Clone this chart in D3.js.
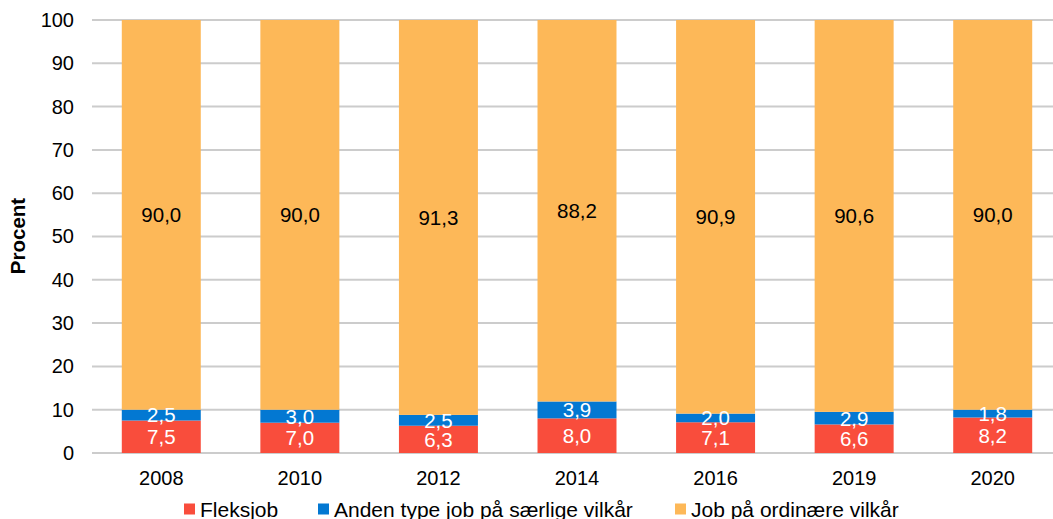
<!DOCTYPE html>
<html>
<head>
<meta charset="utf-8">
<script src="https://cdn.jsdelivr.net/npm/d3@7"></script>
<style>
  html, body { margin: 0; padding: 0; background: #fff; }
  svg { display: block; font-family: "Liberation Sans", Arial, sans-serif; }
</style>
</head>
<body>
<svg id="chart" width="1053" height="519"></svg>
<script>
// Andel i job fordelt på jobtype, pct.
const years = ["2008", "2010", "2012", "2014", "2016", "2019", "2020"];
const fleksjob = [7.5, 7.0, 6.3, 8.0, 7.1, 6.6, 8.2];
const andenType = [2.5, 3.0, 2.5, 3.9, 2.0, 2.9, 1.8];
const ordinaer = [90.0, 90.0, 91.3, 88.2, 90.9, 90.6, 90.0];
const seriesNames = ["Fleksjob", "Anden type job på særlige vilkår", "Job på ordinære vilkår"];
const yTicks = [0, 10, 20, 30, 40, 50, 60, 70, 80, 90, 100];

const colors = ["#F94D3C", "#0378D2", "#FDB858"];
const labelColors = ["#fff", "#fff", "#000"];

const rows = years.map((yr, i) => ({ year: yr, s0: fleksjob[i], s1: andenType[i], s2: ordinaer[i] }));
const keys = ["s0", "s1", "s2"];
const stacked = d3.stack().keys(keys)(rows);

const svg = d3.select("#chart");
const plotLeft = 92, plotRight = 1062, plotTop = 20, plotBottom = 453;

const x = d3.scaleBand().domain(years).range([plotLeft, plotRight]).paddingInner(0.43).paddingOuter(0.215);
const y = d3.scaleLinear().domain([0, 100]).range([plotBottom, plotTop]);

// gridlines
svg.append("g")
  .selectAll("line").data(yTicks).join("line")
  .attr("x1", plotLeft).attr("x2", 1053)
  .attr("y1", d => y(d)).attr("y2", d => y(d))
  .attr("stroke", "#cccccc").attr("stroke-width", 2);

// y axis labels
const yAxis = svg.append("g").attr("transform", `translate(${plotLeft},0)`)
  .call(d3.axisLeft(y).tickValues(yTicks).tickSize(0).tickPadding(18));
yAxis.select(".domain").remove();
yAxis.selectAll("text").attr("font-size", 20).attr("fill", "#000")
  .attr("font-family", "Liberation Sans, Arial, sans-serif");

// x axis labels
const xAxis = svg.append("g").attr("transform", `translate(0,${plotBottom})`)
  .call(d3.axisBottom(x).tickSize(0).tickPadding(18));
xAxis.select(".domain").remove();
xAxis.selectAll("text").attr("font-size", 20).attr("fill", "#000")
  .attr("font-family", "Liberation Sans, Arial, sans-serif");

// stacked bars
const layers = svg.append("g").selectAll("g").data(stacked).join("g")
  .attr("fill", (d, i) => colors[i]);
layers.selectAll("rect").data(d => d).join("rect")
  .attr("x", d => x(d.data.year))
  .attr("width", x.bandwidth())
  .attr("y", d => y(Math.min(d[1], 100)))
  .attr("height", d => y(d[0]) - y(Math.min(d[1], 100)));

// value labels
const fmt = v => d3.format(".1f")(v).replace(".", ",");
stacked.forEach((layer, li) => {
  svg.append("g").selectAll("text").data(layer).join("text")
    .attr("x", d => x(d.data.year) + x.bandwidth() / 2)
    .attr("y", d => y((d[0] + Math.min(d[1], 100)) / 2))
    .attr("dy", "0.36em")
    .attr("text-anchor", "middle")
    .attr("font-size", 20.5)
    .attr("fill", labelColors[li])
    .text(d => fmt(d.data[keys[li]]));
});

// y axis title
svg.append("text")
  .attr("transform", `translate(25,236) rotate(-90)`)
  .attr("text-anchor", "middle")
  .attr("font-size", 20.5).attr("font-weight", "bold")
  .text("Procent");

// legend
const legendX = [184, 318, 675];
const lg = svg.append("g").selectAll("g").data(seriesNames).join("g")
  .attr("transform", (d, i) => `translate(${legendX[i]},509)`);
lg.append("rect").attr("x", 0).attr("y", -5.5).attr("width", 11).attr("height", 11)
  .attr("fill", (d, i) => colors[i]);
lg.append("text").attr("x", 16).attr("y", 0).attr("dy", "0.36em")
  .attr("font-size", 21).attr("fill", "#000").text(d => d);
</script>
</body>
</html>
